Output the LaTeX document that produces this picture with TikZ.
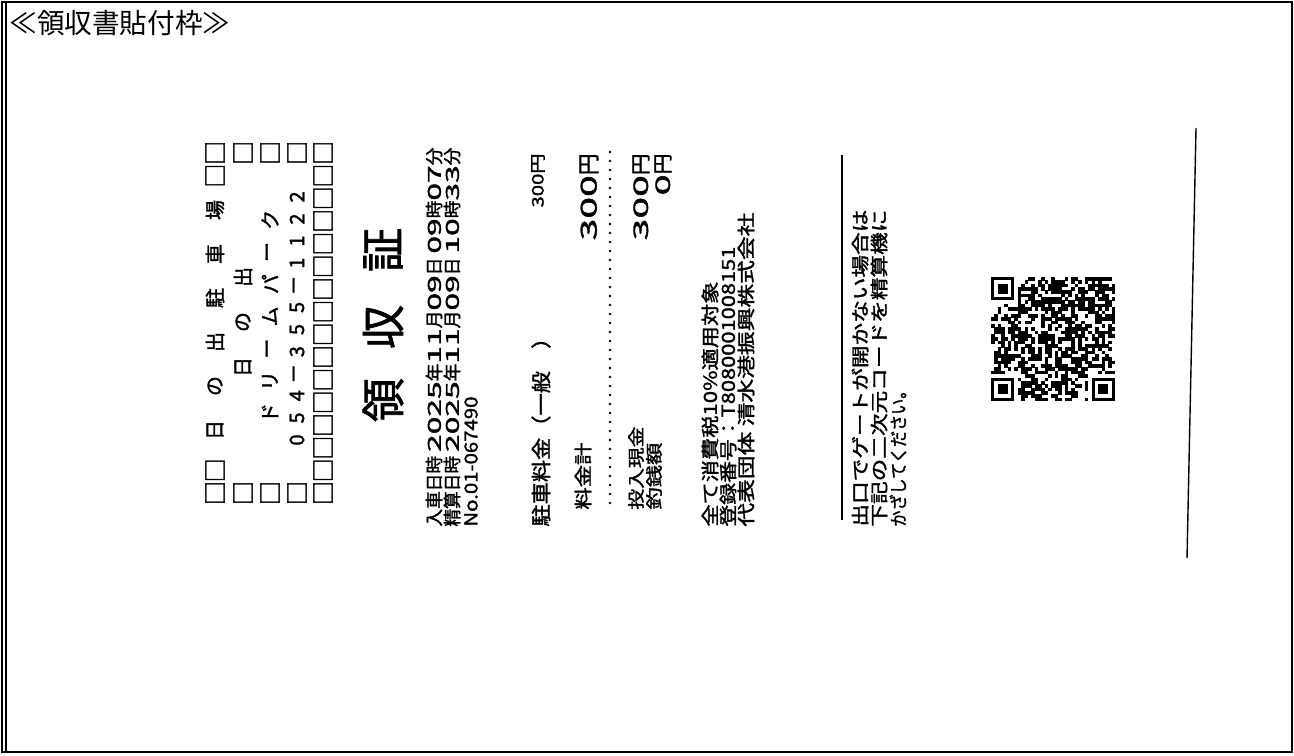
\documentclass[tikz,border=0pt]{standalone}
\usepackage{fontspec}
\usepackage{graphicx}
\setmainfont{Noto Sans CJK JP}
\newfontfamily\rcpt{Noto Sans CJK JP}[FakeBold=1.6]
\newlength\px
\setlength\px{0.5pt}
\newcommand\fs[1]{\fontsize{#1}{#1}\selectfont\rcpt}
\newcommand\fitto[2]{\resizebox{#1\px}{\height}{#2}}
\newcommand\dg[1]{\scalebox{1.8}[1]{#1}}
\tikzset{
  line/.style={rotate=90, anchor=west, inner sep=0pt},
  amount/.style={rotate=90, anchor=east, inner sep=0pt},
  hdr/.style={rotate=90, inner sep=0pt, font=\fs{10}},
  tofu/.style={rotate=90, inner sep=0pt, font=\fs{12}},
  frame/.style={line width=1pt},
  dots/.style={line width=1.3pt, line cap=round, dash pattern=on 0pt off 4.5pt},
}
\begin{document}
\begin{tikzpicture}[x=0.5pt, y=-0.5pt]
\useasboundingbox (0,0) rectangle (1294,755);
\draw[frame] (2,2) rectangle (1292,752);
\draw[frame] (6,2) -- (6,752);
\node[anchor=west, inner sep=0pt, font=\fontsize{13.8}{13.8}\selectfont] (caption) at (9,23) {≪領収書貼付枠≫};

% header block
\foreach \p in {0,1,14,15} \node[tofu] (a\p) at (215,{493-22.67*\p}) {□};
\foreach \c in {243,270,297} \foreach \p in {0,15} \node[tofu] (b\c\p) at (\c,{493-22.67*\p}) {□};
\foreach \p in {0,...,15} \node[tofu] (e\p) at (323,{493-22.67*\p}) {□};
\foreach \ch [count=\i from 0] in {日,の,出,駐,車,場} \node[hdr] (park\i) at (215,{430-44*\i}) {\ch};
\foreach \ch [count=\i from 0] in {日,の,出} \node[hdr] (area\i) at (243,{367-45*\i}) {\ch};
\foreach \ch [count=\i from 0] in {ド,リ,ー,ム,パ,ー,ク} \node[hdr] (dream\i) at (270,{413-32.2*\i}) {\ch};
\foreach \ch [count=\i from 0] in {0,5,4,－,3,5,5,－,1,1,2,2} \node[hdr] (tel\i) at (297,{440-22.1*\i}) {\ch};
\foreach \ch/\y [count=\i] in {領/400,収/327,証/250} \node[rotate=90, inner sep=0pt, font=\fs{22}] (title\i) at (383,\y) {\ch};

% times
\node[line, font=\fs{9}] (entry) at (434,527) {\fitto{379}{入車日時 \dg{2025}年\dg{11}月\dg{09}日 \dg{09}時\dg{07}分}};
\node[line, font=\fs{9}] (paid) at (452,527) {\fitto{379}{精算日時 \dg{2025}年\dg{11}月\dg{09}日 \dg{10}時\dg{33}分}};
\node[line, font=\fs{9}] (ticket) at (471,527) {\fitto{130}{No.01-067490}};

% amounts
\node[line, font=\fs{10}] (fee) at (541,527) {\fitto{200}{駐車料金（一般　）}};
\node[amount, font=\fs{8}] (feeval) at (538,153) {\fitto{54}{300円}};
\node[line, font=\fs{9}] (total) at (583,510) {\fitto{67}{料金計}};
\node[amount, font=\fs{11}] (totalval) at (589,153) {\fitto{87}{\dg{300}円}};
\draw[dots] (610,152) -- (610,512);
\node[line, font=\fs{8.5}] (cash) at (636,510) {\fitto{83}{投入現金}};
\node[line, font=\fs{8.5}] (change) at (654,510) {\fitto{67}{釣銭額}};
\node[amount, font=\fs{10}] (cashval) at (641,153) {\fitto{87}{\dg{300}円}};
\node[amount, font=\fs{10}] (changeval) at (663,153) {\fitto{42}{\dg{0}円}};

% tax
\node[line, font=\fs{9}] (tax) at (710,527) {\fitto{245}{全て消費税10\%適用対象}};
\node[line, font=\fs{9}] (regno) at (728,527) {\fitto{280}{登録番号：T8080001008151}};
\node[line, font=\fs{9}] (org) at (746,527) {\fitto{314}{代表団体 清水港振興株式会社}};

\draw[line width=0.8pt] (842,155) -- (842,520);
\node[line, font=\fs{9}] (note1) at (860,527) {\fitto{317}{出口でゲートが開かない場合は}};
\node[line, font=\fs{9}] (note2) at (879,527) {\fitto{317}{下記の二次元コードを精算機に}};
\node[line, font=\fs{9}] (note3) at (898,527) {\fitto{144}{かざしてください。}};

% qr code
\def\qx{991}\def\qy{277}\def\qm{3.35}
\pgfmathsetseed{2025}
\foreach \i in {0,...,36}{
  \foreach \j in {0,...,36}{
    \pgfmathtruncatemacro\keep{and(rnd<0.56,not(or(or(and(\i<8,\j<8),and(\i<8,\j>28)),and(\i>28,\j>28))))}
    \ifnum\keep=1 \fill ({\qx+\i*\qm},{\qy+\j*\qm}) rectangle +({\qm+0.3},{\qm+0.3}); \fi
  }
}
\foreach \i/\j in {0/0,0/30,30/30}{
  \fill ({\qx+\i*\qm},{\qy+\j*\qm}) rectangle +({7*\qm},{7*\qm});
  \fill[white] ({\qx+(\i+1)*\qm},{\qy+(\j+1)*\qm}) rectangle +({5*\qm},{5*\qm});
  \fill ({\qx+(\i+2)*\qm},{\qy+(\j+2)*\qm}) rectangle +({3*\qm},{3*\qm});
}

\draw[line width=0.7pt] (1196,128) -- (1187,558);
\end{tikzpicture}
\end{document}
